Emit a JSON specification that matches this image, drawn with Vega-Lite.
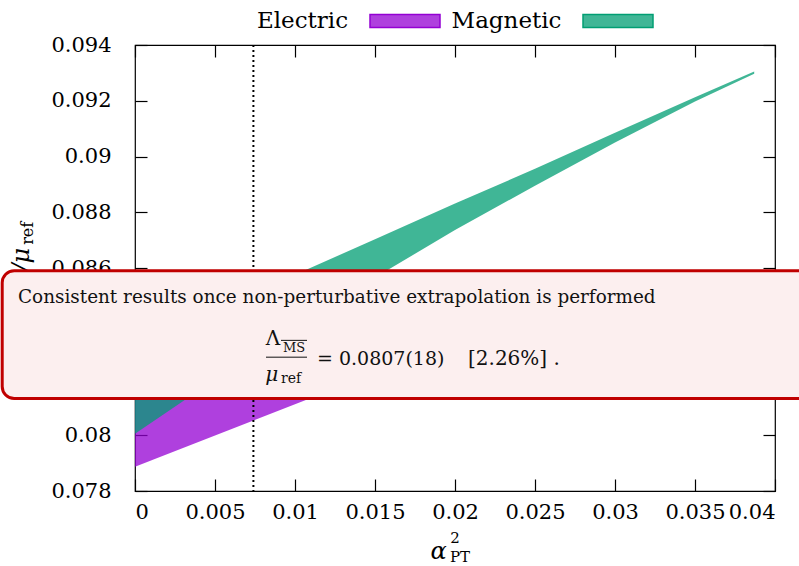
{
  "$schema": "https://vega.github.io/schema/vega-lite/v6.json",
  "width": 640,
  "height": 446,
  "autosize": "none",
  "padding": {"left": 135, "top": 45, "right": 24, "bottom": 75},
  "background": "white",
  "config": {
    "view": {"stroke": "black", "strokeWidth": 1.2},
    "font": "DejaVu Serif",
    "text": {"font": "DejaVu Serif"},
    "axis": {
      "labelFont": "DejaVu Serif",
      "labelFontSize": 21,
      "labelColor": "black",
      "labelOverlap": false,
      "labelBound": false,
      "tickColor": "black",
      "tickWidth": 1.2,
      "tickSize": -12,
      "domain": false,
      "grid": false,
      "zindex": 0
    }
  },
  "datasets": {
    "electric": [
      {"x": 0, "lo": 0.07887, "hi": 0.0826},
      {"x": 0.005, "lo": 0.07999, "hi": 0.0836},
      {"x": 0.01, "lo": 0.08111, "hi": 0.0846},
      {"x": 0.015, "lo": 0.08223, "hi": 0.0856}
    ],
    "magnetic": [
      {"x": 0, "lo": 0.08005, "hi": 0.0832},
      {"x": 0.005, "lo": 0.082, "hi": 0.08448},
      {"x": 0.01, "lo": 0.08387, "hi": 0.08576},
      {"x": 0.015, "lo": 0.08566, "hi": 0.08703},
      {"x": 0.02, "lo": 0.08736, "hi": 0.08831},
      {"x": 0.025, "lo": 0.08895, "hi": 0.08956},
      {"x": 0.03, "lo": 0.09050, "hi": 0.09085},
      {"x": 0.035, "lo": 0.09197, "hi": 0.09213},
      {"x": 0.0387, "lo": 0.09297, "hi": 0.09305}
    ]
  },
  "layer": [
    {
      "data": {"name": "electric"},
      "mark": {"type": "area", "color": "#9400d3", "fillOpacity": 0.75},
      "encoding": {
        "x": {"field": "x", "type": "quantitative", "scale": {"domain": [0, 0.04], "nice": false, "zero": false},
              "axis": {"orient": "bottom", "title": null, "values": [0, 0.005, 0.01, 0.015, 0.02, 0.025, 0.03, 0.035, 0.04], "labelExpr": "toString(datum.value)", "labelPadding": 22}},
        "y": {"field": "lo", "type": "quantitative", "scale": {"domain": [0.078, 0.094], "nice": false, "zero": false},
              "axis": {"orient": "left", "title": null, "values": [0.078, 0.08, 0.082, 0.084, 0.086, 0.088, 0.09, 0.092, 0.094], "labelExpr": "toString(datum.value)", "labelPadding": 36}},
        "y2": {"field": "hi"}
      }
    },
    {
      "data": {"name": "magnetic"},
      "mark": {"type": "area", "color": "#009e73", "fillOpacity": 0.75},
      "encoding": {
        "x": {"field": "x", "type": "quantitative", "scale": {"domain": [0, 0.04], "nice": false, "zero": false},
              "axis": {"orient": "top", "title": null, "labels": false, "values": [0, 0.005, 0.01, 0.015, 0.02, 0.025, 0.03, 0.035, 0.04]}},
        "y": {"field": "lo", "type": "quantitative", "scale": {"domain": [0.078, 0.094], "nice": false, "zero": false},
              "axis": {"orient": "right", "title": null, "labels": false, "values": [0.078, 0.08, 0.082, 0.084, 0.086, 0.088, 0.09, 0.092, 0.094]}},
        "y2": {"field": "hi"}
      }
    },
    {
      "data": {"values": [{}]},
      "mark": {"type": "rule", "color": "black", "strokeWidth": 2, "strokeDash": [2, 3]},
      "encoding": {
        "x": {"datum": 0.0074, "type": "quantitative", "scale": {"domain": [0, 0.04], "nice": false, "zero": false}, "axis": null}
      }
    },
    {
      "data": {"values": [{}]},
      "mark": {"type": "text", "text": "Electric", "fontSize": 23, "align": "center", "baseline": "alphabetic", "color": "black"},
      "encoding": {
        "x": {"datum": 0.01047, "type": "quantitative", "scale": {"domain": [0, 0.04], "nice": false, "zero": false}, "axis": null},
        "y": {"datum": 0.094614, "type": "quantitative", "scale": {"domain": [0.078, 0.094], "nice": false, "zero": false}, "axis": null}
      }
    },
    {
      "data": {"values": [{}]},
      "mark": {"type": "text", "text": "Magnetic", "fontSize": 23, "align": "center", "baseline": "alphabetic", "color": "black"},
      "encoding": {
        "x": {"datum": 0.02322, "type": "quantitative", "scale": {"domain": [0, 0.04], "nice": false, "zero": false}, "axis": null},
        "y": {"datum": 0.094614, "type": "quantitative", "scale": {"domain": [0.078, 0.094], "nice": false, "zero": false}, "axis": null}
      }
    },
    {
      "data": {"values": [{}]},
      "mark": {"type": "rect", "fill": "#9400d3", "fillOpacity": 0.75, "stroke": "#9400d3", "strokeWidth": 1.5},
      "encoding": {
        "x": {"datum": 0.0146875, "type": "quantitative", "scale": {"domain": [0, 0.04], "nice": false, "zero": false}, "axis": null},
        "x2": {"datum": 0.0190625},
        "y": {"datum": 0.095092, "type": "quantitative", "scale": {"domain": [0.078, 0.094], "nice": false, "zero": false}, "axis": null},
        "y2": {"datum": 0.094625}
      }
    },
    {
      "data": {"values": [{}]},
      "mark": {"type": "rect", "fill": "#009e73", "fillOpacity": 0.75, "stroke": "#009e73", "strokeWidth": 1.5},
      "encoding": {
        "x": {"datum": 0.028, "type": "quantitative", "scale": {"domain": [0, 0.04], "nice": false, "zero": false}, "axis": null},
        "x2": {"datum": 0.032375},
        "y": {"datum": 0.095092, "type": "quantitative", "scale": {"domain": [0.078, 0.094], "nice": false, "zero": false}, "axis": null},
        "y2": {"datum": 0.094625}
      }
    },
    {
      "data": {"values": [{}]},
      "mark": {"type": "text", "text": "α", "fontStyle": "italic", "fontSize": 24, "align": "center", "baseline": "alphabetic", "color": "black"},
      "encoding": {
        "x": {"datum": 0.01897, "type": "quantitative", "scale": {"domain": [0, 0.04], "nice": false, "zero": false}, "axis": null},
        "y": {"datum": 0.07556, "type": "quantitative", "scale": {"domain": [0.078, 0.094], "nice": false, "zero": false}, "axis": null}
      }
    },
    {
      "data": {"values": [{}]},
      "mark": {"type": "text", "text": "2", "fontSize": 15, "align": "left", "baseline": "alphabetic", "color": "black"},
      "encoding": {
        "x": {"datum": 0.0197, "type": "quantitative", "scale": {"domain": [0, 0.04], "nice": false, "zero": false}, "axis": null},
        "y": {"datum": 0.07612, "type": "quantitative", "scale": {"domain": [0.078, 0.094], "nice": false, "zero": false}, "axis": null}
      }
    },
    {
      "data": {"values": [{}]},
      "mark": {"type": "text", "text": "PT", "fontSize": 15, "align": "left", "baseline": "alphabetic", "color": "black"},
      "encoding": {
        "x": {"datum": 0.0196875, "type": "quantitative", "scale": {"domain": [0, 0.04], "nice": false, "zero": false}, "axis": null},
        "y": {"datum": 0.07545, "type": "quantitative", "scale": {"domain": [0.078, 0.094], "nice": false, "zero": false}, "axis": null}
      }
    },
    {
      "data": {"values": [{}]},
      "mark": {"type": "text", "text": "Λ  /μ", "fontStyle": "italic", "fontSize": 24, "angle": 270, "align": "right", "baseline": "alphabetic", "color": "black"},
      "encoding": {
        "x": {"datum": -0.0066, "type": "quantitative", "scale": {"domain": [0, 0.04], "nice": false, "zero": false}, "axis": null},
        "y": {"datum": 0.086722, "type": "quantitative", "scale": {"domain": [0.078, 0.094], "nice": false, "zero": false}, "axis": null}
      }
    },
    {
      "data": {"values": [{}]},
      "mark": {"type": "text", "text": "ref", "fontSize": 16, "angle": 270, "align": "center", "baseline": "alphabetic", "color": "black"},
      "encoding": {
        "x": {"datum": -0.006375, "type": "quantitative", "scale": {"domain": [0, 0.04], "nice": false, "zero": false}, "axis": null},
        "y": {"datum": 0.087246, "type": "quantitative", "scale": {"domain": [0.078, 0.094], "nice": false, "zero": false}, "axis": null}
      }
    },
    {
      "data": {"values": [{}]},
      "mark": {"type": "rect", "fill": "#fcefef", "stroke": "#c00000", "strokeWidth": 3, "cornerRadius": 12, "clip": false},
      "encoding": {
        "x": {"datum": -0.0083, "type": "quantitative", "scale": {"domain": [0, 0.04], "nice": false, "zero": false}, "axis": null},
        "x2": {"datum": 0.05},
        "y": {"datum": 0.0859, "type": "quantitative", "scale": {"domain": [0.078, 0.094], "nice": false, "zero": false}, "axis": null},
        "y2": {"datum": 0.08132}
      }
    },
    {
      "data": {"values": [{}]},
      "mark": {"type": "text", "text": "Consistent results once non-perturbative extrapolation is performed", "fontSize": 18.4, "align": "left", "baseline": "alphabetic", "color": "#111111"},
      "encoding": {
        "x": {"datum": -0.0073125, "type": "quantitative", "scale": {"domain": [0, 0.04], "nice": false, "zero": false}, "axis": null},
        "y": {"datum": 0.084753, "type": "quantitative", "scale": {"domain": [0.078, 0.094], "nice": false, "zero": false}, "axis": null}
      }
    },
    {
      "data": {"values": [{}]},
      "mark": {"type": "text", "text": "Λ", "fontSize": 20, "align": "center", "baseline": "alphabetic", "color": "#111111"},
      "encoding": {
        "x": {"datum": 0.008625, "type": "quantitative", "scale": {"domain": [0, 0.04], "nice": false, "zero": false}, "axis": null},
        "y": {"datum": 0.083243, "type": "quantitative", "scale": {"domain": [0.078, 0.094], "nice": false, "zero": false}, "axis": null}
      }
    },
    {
      "data": {"values": [{}]},
      "mark": {"type": "text", "text": "MS", "fontSize": 13, "align": "center", "baseline": "alphabetic", "color": "#111111"},
      "encoding": {
        "x": {"datum": 0.0099375, "type": "quantitative", "scale": {"domain": [0, 0.04], "nice": false, "zero": false}, "axis": null},
        "y": {"datum": 0.08299, "type": "quantitative", "scale": {"domain": [0.078, 0.094], "nice": false, "zero": false}, "axis": null}
      }
    },
    {
      "data": {"values": [{}]},
      "mark": {"type": "rule", "color": "#111111", "strokeWidth": 1},
      "encoding": {
        "x": {"datum": 0.009125, "type": "quantitative", "scale": {"domain": [0, 0.04], "nice": false, "zero": false}, "axis": null},
        "x2": {"datum": 0.01075},
        "y": {"datum": 0.083404, "type": "quantitative", "scale": {"domain": [0.078, 0.094], "nice": false, "zero": false}, "axis": null}
      }
    },
    {
      "data": {"values": [{}]},
      "mark": {"type": "rule", "color": "#111111", "strokeWidth": 1},
      "encoding": {
        "x": {"datum": 0.0081875, "type": "quantitative", "scale": {"domain": [0, 0.04], "nice": false, "zero": false}, "axis": null},
        "x2": {"datum": 0.01075},
        "y": {"datum": 0.082801, "type": "quantitative", "scale": {"domain": [0.078, 0.094], "nice": false, "zero": false}, "axis": null}
      }
    },
    {
      "data": {"values": [{}]},
      "mark": {"type": "text", "text": "μ", "fontStyle": "italic", "fontSize": 20, "align": "center", "baseline": "alphabetic", "color": "#111111"},
      "encoding": {
        "x": {"datum": 0.00855, "type": "quantitative", "scale": {"domain": [0, 0.04], "nice": false, "zero": false}, "axis": null},
        "y": {"datum": 0.08195, "type": "quantitative", "scale": {"domain": [0.078, 0.094], "nice": false, "zero": false}, "axis": null}
      }
    },
    {
      "data": {"values": [{}]},
      "mark": {"type": "text", "text": "ref", "fontSize": 14, "align": "left", "baseline": "alphabetic", "color": "#111111"},
      "encoding": {
        "x": {"datum": 0.009125, "type": "quantitative", "scale": {"domain": [0, 0.04], "nice": false, "zero": false}, "axis": null},
        "y": {"datum": 0.081878, "type": "quantitative", "scale": {"domain": [0.078, 0.094], "nice": false, "zero": false}, "axis": null}
      }
    },
    {
      "data": {"values": [{}]},
      "mark": {"type": "text", "text": "= 0.0807(18)", "fontSize": 19, "align": "left", "baseline": "alphabetic", "color": "#111111"},
      "encoding": {
        "x": {"datum": 0.011375, "type": "quantitative", "scale": {"domain": [0, 0.04], "nice": false, "zero": false}, "axis": null},
        "y": {"datum": 0.082524, "type": "quantitative", "scale": {"domain": [0.078, 0.094], "nice": false, "zero": false}, "axis": null}
      }
    },
    {
      "data": {"values": [{}]},
      "mark": {"type": "text", "text": "[2.26%] .", "fontSize": 20, "align": "left", "baseline": "alphabetic", "color": "#111111"},
      "encoding": {
        "x": {"datum": 0.0208125, "type": "quantitative", "scale": {"domain": [0, 0.04], "nice": false, "zero": false}, "axis": null},
        "y": {"datum": 0.082524, "type": "quantitative", "scale": {"domain": [0.078, 0.094], "nice": false, "zero": false}, "axis": null}
      }
    }
  ],
  "resolve": {"axis": {"x": "independent", "y": "independent"}}
}
